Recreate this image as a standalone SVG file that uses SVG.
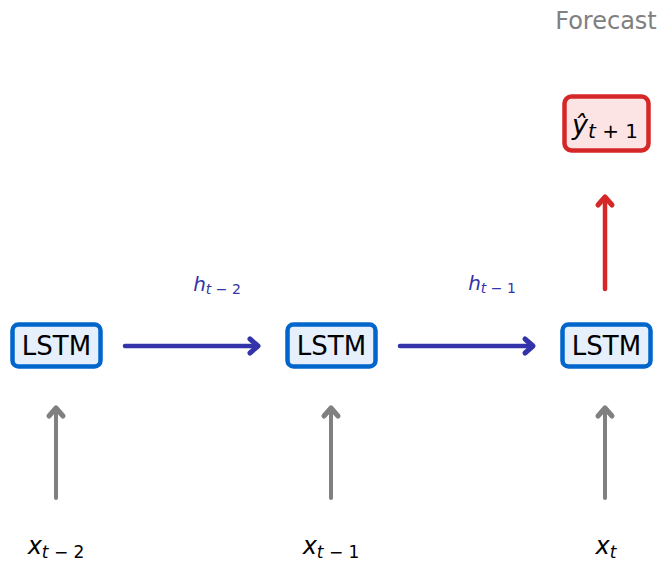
<svg xmlns="http://www.w3.org/2000/svg" width="661" height="564" viewBox="0 0 661 564">
<style>
.lstm rect{fill:#E6F0FC;stroke:#0066CC;stroke-width:4.5}
.lstm text{font-family:"DejaVu Sans",sans-serif;font-size:26px;fill:#000;text-anchor:middle}
.gray{stroke:#808080;stroke-width:4;fill:none;stroke-linecap:round;stroke-linejoin:round}
.blue{stroke:#3333AA;stroke-width:4.5;fill:none;stroke-linecap:round;stroke-linejoin:round}
.red{stroke:#D62728;stroke-width:4.5;fill:none;stroke-linecap:round;stroke-linejoin:round}
.hd{stroke-width:5}
</style>
<rect width="661" height="564" fill="#fff"/>
<g id="connectors">
<path class="gray" d="M56 498V409"/><path class="gray hd" d="M49 416L56 408L63 416"/>
<path class="gray" d="M331 498V409"/><path class="gray hd" d="M324 416L331 408L338 416"/>
<path class="gray" d="M605 498V409"/><path class="gray hd" d="M598 416L605 408L612 416"/>
<path class="blue" d="M125 346H257"/><path class="blue hd" d="M250 339L258 346L250 353"/>
<path class="blue" d="M400 346H532"/><path class="blue hd" d="M525 339L533 346L525 353"/>
<path class="red" d="M605 289V198"/><path class="red hd" d="M598 205L605 197L612 205"/>
</g>
<g id="lstm1" class="lstm"><rect x="12.5" y="324.5" width="88" height="42" rx="6"/><text x="56.5" y="355">LSTM</text></g>
<g id="lstm2" class="lstm"><rect x="287.5" y="324.5" width="88" height="42" rx="6"/><text x="331.5" y="355">LSTM</text></g>
<g id="lstm3" class="lstm"><rect x="562.5" y="324.5" width="88" height="42" rx="6"/><text x="606.5" y="355">LSTM</text></g>
<g id="forecast">
<rect x="564.5" y="96.5" width="84" height="54" rx="7" fill="#FDE4E4" stroke="#D62728" stroke-width="4.5"/>
<text x="605" y="134" font-family="DejaVu Sans,sans-serif" font-size="27" text-anchor="middle"><tspan font-style="oblique">ŷ</tspan><tspan font-size="20" dy="4" font-style="oblique">t</tspan><tspan font-size="20"> + 1</tspan></text>
</g>
<g id="labels">
<text x="606" y="29" font-family="DejaVu Sans,sans-serif" font-size="24" fill="#808080" text-anchor="middle">Forecast</text>
<text x="217" y="291" font-family="DejaVu Sans,sans-serif" font-size="20" fill="#3333AA" text-anchor="middle"><tspan font-style="oblique">h</tspan><tspan font-size="14" dy="3" font-style="oblique">t</tspan><tspan font-size="14"> − 2</tspan></text>
<text x="492" y="290" font-family="DejaVu Sans,sans-serif" font-size="20" fill="#3333AA" text-anchor="middle"><tspan font-style="oblique">h</tspan><tspan font-size="14" dy="3" font-style="oblique">t</tspan><tspan font-size="14"> − 1</tspan></text>
<text x="56" y="554" font-family="DejaVu Sans,sans-serif" font-size="24" fill="#000" text-anchor="middle"><tspan font-style="oblique">x</tspan><tspan font-size="17" dy="4" font-style="oblique">t</tspan><tspan font-size="17"> − 2</tspan></text>
<text x="331" y="554" font-family="DejaVu Sans,sans-serif" font-size="24" fill="#000" text-anchor="middle"><tspan font-style="oblique">x</tspan><tspan font-size="17" dy="4" font-style="oblique">t</tspan><tspan font-size="17"> − 1</tspan></text>
<text x="606" y="554" font-family="DejaVu Sans,sans-serif" font-size="24" fill="#000" text-anchor="middle"><tspan font-style="oblique">x</tspan><tspan font-size="17" dy="4" font-style="oblique">t</tspan></text>
</g>
</svg>
